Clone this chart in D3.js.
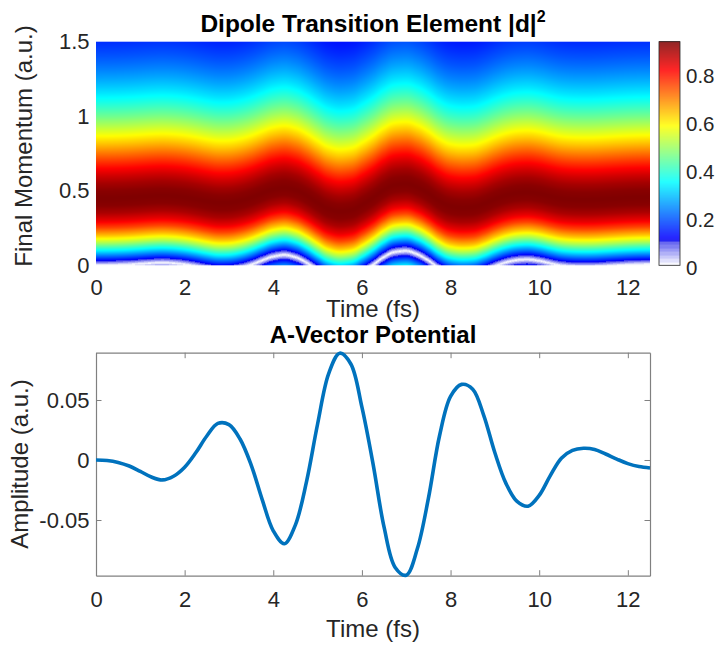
<!DOCTYPE html>
<html><head><meta charset="utf-8">
<script src="https://cdn.jsdelivr.net/npm/d3@7"></script>
<style>
body{margin:0;background:#fff;}
svg{display:block;font-family:"Liberation Sans",Arial,Helvetica,sans-serif;}
</style>
</head><body>
<svg id="chart" width="716" height="646"></svg>
<script>
// ---------- data ----------
const timeFs = [0,0.25,0.5,0.75,1,1.25,1.5,1.75,2,2.25,2.5,2.75,3,3.25,3.5,3.75,4,4.25,4.5,4.75,
  5,5.25,5.5,5.75,6,6.25,6.5,6.75,7,7.25,7.5,7.75,8,8.25,8.5,8.75,9,9.25,9.5,9.75,
  10,10.25,10.5,10.75,11,11.25,11.5,11.75,12,12.25,12.5];
const vectorPotential = [0.0000,-0.0004,-0.0020,-0.0050,-0.0095,-0.0142,-0.0166,-0.0135,-0.0060,0.0060,
  0.0200,0.0305,0.0295,0.0175,-0.0040,-0.0330,-0.0590,-0.0698,-0.0540,-0.0180,
  0.0300,0.0720,0.0890,0.0800,0.0440,-0.0030,-0.0560,-0.0895,-0.0960,-0.0740,
  -0.0320,0.0200,0.0530,0.0630,0.0590,0.0370,0.0060,-0.0195,-0.0345,-0.0385,
  -0.0295,-0.0130,0.0015,0.0080,0.0098,0.0088,0.0050,0.0008,-0.0030,-0.0055,
  -0.0066];
// |d|^2 versus kinetic momentum (p + A), read along the field-free edge of the map
const kineticMomentum = [0,0.05,0.1,0.15,0.2,0.25,0.3,0.35,0.4,0.45,0.5,0.55,0.6,0.65,0.7,0.75,0.8,
  0.85,0.9,0.95,1,1.05,1.1,1.15,1.2,1.25,1.3,1.35,1.4,1.45,1.5,1.55,1.6];
const dipoleProfile = [0,0.178,0.349,0.504,0.639,0.749,0.833,0.889,0.921,0.930,0.920,0.895,0.857,0.812,0.761,0.707,0.652,
  0.598,0.546,0.496,0.449,0.406,0.366,0.330,0.297,0.267,0.240,0.216,0.194,0.175,0.157,0.141,0.128];
const colorMax = 0.93;

const timeTicks = [0,2,4,6,8,10,12];
const timeTickLabels = ["0","2","4","6","8","10","12"];
const momentumTicks = [0,0.5,1,1.5];
const momentumTickLabels = ["0","0.5","1","1.5"];
const amplitudeTicks = [-0.05,0,0.05];
const amplitudeTickLabels = ["-0.05","0","0.05"];
const colorbarTicks = [0,0.2,0.4,0.6,0.8];
const colorbarTickLabels = ["0","0.2","0.4","0.6","0.8"];

// ---------- layout ----------
const W = 716, H = 646;
const L = 96, R = 650;
const top1 = 41.7, bot1 = 265.3;
const top2 = 352.7, bot2 = 575.7;
const cbL = 659, cbR = 680;
const TXT = "#262626";

const svg = d3.select("#chart");
svg.append("rect").attr("width", W).attr("height", H).attr("fill", "#fff");

const x = d3.scaleLinear().domain([0, 12.5]).range([L, R]);
const yP = d3.scaleLinear().domain([0, 1.5]).range([bot1, top1]);
const yA = d3.scaleLinear().domain([-0.0964, 0.0894]).range([bot2, top2]);
const cb = d3.scaleLinear().domain([0, colorMax]).range([bot1, top1]);
const profile = d3.scaleLinear().domain(kineticMomentum).range(dipoleProfile).clamp(true);

// colormap: jet with the lowest levels replaced by white -> lavender steps
function jetInterp(f) {
  const cl = v => Math.max(0, Math.min(1, v));
  if (f < 7 / 64) {
    const i = Math.max(0, Math.min(6, Math.floor(f * 64)));
    const s = (i + 0.3) / 7;
    const r = 255 + (60 - 255) * s, g = 255 + (60 - 255) * s, b = 255 + (235 - 255) * s;
    return d3.rgb(r, g, b).toString();
  }
  const r = cl(1.5 - Math.abs(4 * f - 3)), g = cl(1.5 - Math.abs(4 * f - 2)), b = cl(1.5 - Math.abs(4 * f - 1));
  return d3.rgb(r * 255, g * 255, b * 255).toString();
}
const color = d3.scaleSequential(jetInterp).domain([0, colorMax]).clamp(true);
const LUTN = 1024;
const lut = d3.range(LUTN).map(i => d3.rgb(color(i / (LUTN - 1) * colorMax)));

// ---------- bottom panel: A-vector potential ----------
const g2 = svg.append("g");
const line = d3.line()
  .x((d, i) => x(timeFs[i]))
  .y(d => yA(d))
  .curve(d3.curveCatmullRom.alpha(0.5));

const axisCol = "#808080";
g2.append("g").attr("transform", `translate(0,${bot2})`)
  .call(d3.axisBottom(x).tickValues(timeTicks).tickFormat((d, i) => timeTickLabels[i])
    .tickSizeInner(-5.5).tickSizeOuter(0).tickPadding(15.7));
g2.append("g").attr("transform", `translate(0,${top2})`)
  .call(d3.axisTop(x).tickValues(timeTicks).tickFormat("").tickSizeInner(-5.5).tickSizeOuter(0));
g2.append("g").attr("transform", `translate(${L},0)`)
  .call(d3.axisLeft(yA).tickValues(amplitudeTicks).tickFormat((d, i) => amplitudeTickLabels[i])
    .tickSizeInner(-5.5).tickSizeOuter(0).tickPadding(6.5));
g2.append("g").attr("transform", `translate(${R},0)`)
  .call(d3.axisRight(yA).tickValues(amplitudeTicks).tickFormat("").tickSizeInner(-5.5).tickSizeOuter(0));
g2.selectAll(".domain").attr("stroke", axisCol).attr("stroke-width", 1.2);
g2.selectAll(".tick line").attr("stroke", axisCol).attr("stroke-width", 1);
g2.selectAll(".tick text").attr("fill", TXT).attr("font-size", 22);
g2.selectAll("g").attr("font-family", null).attr("font-size", null);

const path = g2.append("path").datum(vectorPotential).attr("d", line)
  .attr("fill", "none").attr("stroke", "#0072BD").attr("stroke-width", 3.6)
  .attr("stroke-linejoin", "round").attr("stroke-linecap", "butt");

g2.append("text").attr("x", (L + R) / 2).attr("y", 343).attr("text-anchor", "middle")
  .attr("font-size", 24).attr("font-weight", "bold").attr("fill", "#000").text("A-Vector Potential");
g2.append("text").attr("x", (L + R) / 2).attr("y", 637).attr("text-anchor", "middle")
  .attr("font-size", 24).attr("fill", TXT).text("Time (fs)");
g2.append("text").attr("transform", `translate(27.5,464) rotate(-90)`).attr("text-anchor", "middle")
  .attr("font-size", 24).attr("fill", TXT).text("Amplitude (a.u.)");

// ---------- top panel: dipole transition element map ----------
// vector potential per pixel column, taken from the drawn curve
const node = path.node();
const plen = node.getTotalLength();
const pts = [];
for (let s = 0; s <= plen; s += 0.5) pts.push(node.getPointAtLength(s));
pts.push(node.getPointAtLength(plen));
const cw = Math.round(R - L), ch = Math.round(bot1 - top1);
const Acol = new Float64Array(cw);
let idx = 0;
for (let i = 0; i < cw; i++) {
  const px = L + (i + 0.5) * (R - L) / cw;
  while (idx < pts.length - 2 && pts[idx + 1].x < px) idx++;
  const a = pts[idx], b = pts[idx + 1];
  const fr = b.x === a.x ? 0 : Math.max(0, Math.min(1, (px - a.x) / (b.x - a.x)));
  Acol[i] = yA.invert(a.y + fr * (b.y - a.y));
}
const canvas = document.createElement("canvas");
canvas.width = cw; canvas.height = ch;
const ctx = canvas.getContext("2d");
const img = ctx.createImageData(cw, ch);
for (let j = 0; j < ch; j++) {
  const p = yP.invert(top1 + (j + 0.5) * (bot1 - top1) / ch);
  for (let i = 0; i < cw; i++) {
    const k = Math.abs(p + Acol[i]);
    const v = profile(k);
    const c = lut[Math.max(0, Math.min(LUTN - 1, Math.round(v / colorMax * (LUTN - 1))))];
    const o = (j * cw + i) * 4;
    img.data[o] = c.r; img.data[o + 1] = c.g; img.data[o + 2] = c.b; img.data[o + 3] = 255;
  }
}
ctx.putImageData(img, 0, 0);
const g1 = svg.append("g");
g1.append("image").attr("href", canvas.toDataURL()).attr("x", L).attr("y", top1)
  .attr("width", R - L).attr("height", bot1 - top1).attr("preserveAspectRatio", "none");

g1.append("g").attr("transform", `translate(0,${bot1})`)
  .call(d3.axisBottom(x).tickValues(timeTicks).tickFormat((d, i) => timeTickLabels[i])
    .tickSize(0).tickPadding(13.6));
g1.append("g").attr("transform", `translate(${L},0)`)
  .call(d3.axisLeft(yP).tickValues(momentumTicks).tickFormat((d, i) => momentumTickLabels[i])
    .tickSize(0).tickPadding(6.5));
g1.selectAll(".domain").remove();
g1.selectAll(".tick text").attr("fill", TXT).attr("font-size", 22);
g1.selectAll("g").attr("font-family", null).attr("font-size", null);

const t1 = g1.append("text").attr("x", (L + R) / 2).attr("y", 32).attr("text-anchor", "middle")
  .attr("font-size", 24.5).attr("font-weight", "bold").attr("fill", "#000");
t1.append("tspan").text("Dipole Transition Element |d|");
t1.append("tspan").attr("font-size", 16).attr("dy", -10).text("2");
g1.append("text").attr("x", (L + R) / 2).attr("y", 317).attr("text-anchor", "middle")
  .attr("font-size", 24).attr("fill", TXT).text("Time (fs)");
g1.append("text").attr("transform", `translate(32,146) rotate(-90)`).attr("text-anchor", "middle")
  .attr("font-size", 24).attr("fill", TXT).text("Final Momentum (a.u.)");

// ---------- colorbar ----------
const gc = svg.append("g");
const cbSteps = d3.range(Math.ceil(bot1 - top1));
gc.selectAll("rect.cb").data(cbSteps).join("rect").attr("class", "cb")
  .attr("x", cbL).attr("width", cbR - cbL)
  .attr("y", d => bot1 - d - 1).attr("height", 1.2)
  .attr("fill", d => color(cb.invert(bot1 - d - 0.5)));
gc.append("rect").attr("x", cbL).attr("y", top1).attr("width", cbR - cbL).attr("height", bot1 - top1)
  .attr("fill", "none").attr("stroke", TXT).attr("stroke-width", 0.8);
gc.append("g").attr("transform", `translate(${cbR},0)`)
  .call(d3.axisRight(cb).tickValues(colorbarTicks).tickFormat((d, i) => colorbarTickLabels[i])
    .tickSize(0).tickPadding(6));
gc.selectAll(".domain").remove();
gc.selectAll(".tick text").attr("fill", TXT).attr("font-size", 20.5).attr("dy", "0.45em");
gc.selectAll("g").attr("font-family", null).attr("font-size", null);
</script>
</body></html>
